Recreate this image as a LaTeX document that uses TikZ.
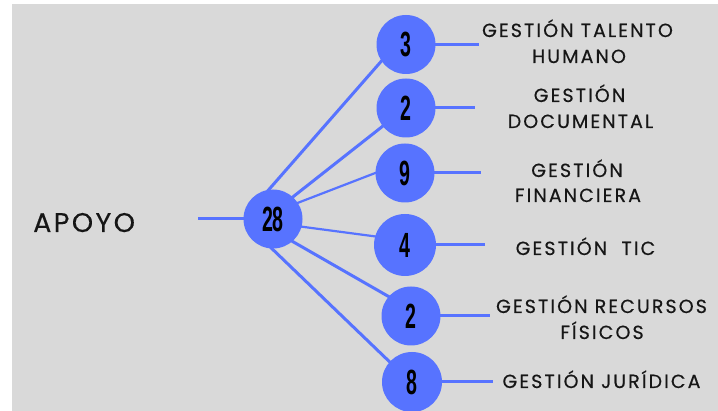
\documentclass[tikz,border=0pt]{standalone}
\usepackage{graphicx}
\usepackage{fontspec}
\setmainfont{Poppins}
\newfontfamily\numfont{Liberation Sans}
\newfontfamily\labelfont[LetterSpace=11,FakeBold=0.4]{Poppins}
\newfontfamily\titlefont[LetterSpace=9,FakeBold=0.3]{Poppins}
\usetikzlibrary{backgrounds}
\definecolor{bubble}{HTML}{5773FF}
\definecolor{panel}{HTML}{D9D9D9}
\definecolor{ink}{HTML}{161616}
\newcommand{\digits}[1]{\scalebox{0.56}[1]{#1}}
\begin{document}
\begin{tikzpicture}[x=1pt,y=-1pt,
  count/.style={circle,fill=bubble,minimum size=59pt,inner sep=0pt,
    font=\numfont\bfseries\fontsize{35}{35}\selectfont,text=black},
  area/.style={anchor=base,text=ink,inner sep=0pt,
    font=\labelfont\fontsize{19}{22}\selectfont},
  link/.style={draw=bubble,line width=3pt,shorten <=-2pt,shorten >=-2pt},
  thin link/.style={link,line width=2.2pt}]
\useasboundingbox (0,0) rectangle (718,411);

% centre and branch counters
\node[count] (c28) at (273,219) {\digits{28}};
\node[count] (c3)  at (406,44.5) {\digits{3}};
\node[count] (c2a) at (406,108) {\digits{2}};
\node[count] (c9)  at (405,173) {\digits{9}};
\node[count,minimum size=62pt] (c4) at (405,245) {\digits{4}};
\node[count] (c2b) at (411,316) {\digits{2}};
\node[count,minimum size=60pt] (c8) at (412,382) {\digits{8}};

% free ends of the short connectors
\coordinate (stem) at (200,219);
\coordinate (e3)  at (477,44.5);
\coordinate (e2a) at (473,108);
\coordinate (e9)  at (479,173);
\coordinate (e4)  at (483,245);
\coordinate (e2b) at (488,316);
\coordinate (e8)  at (491,382);

% labels
\node[anchor=base west,text=ink,inner sep=0pt,
  font=\titlefont\fontsize{27}{30}\selectfont] (apoyo) at (33,232) {APOYO};
\node[area] (l3a) at (577.5,37) {GESTIÓN TALENTO};
\node[area] (l3b) at (579,63) {HUMANO};
\node[area] (l2a) at (579.5,102) {GESTIÓN};
\node[area] (l2b) at (580.5,128) {DOCUMENTAL};
\node[area] (l9a) at (577,177) {GESTIÓN};
\node[area] (l9b) at (578,202) {FINANCIERA};
\node[area] (l4)  at (585.5,255) {GESTIÓN\ \ TIC};
\node[area] (l5a) at (601.5,313) {GESTIÓN RECURSOS};
\node[area] (l5b) at (602,339) {FÍSICOS};
\node[area] (l8)  at (601.5,388) {GESTIÓN JURÍDICA};

\begin{scope}[on background layer]
  \fill[panel] (12,4) rectangle (718,411);
  \draw[link] (stem) -- (c28);
  \draw[link] (c28.98)  -- (c3.214);
  \draw[link] (c28.48)  -- (c2a.218);
  \draw[thin link] (c28.33)  -- (c9.180);
  \draw[thin link] (c28.-15) -- (c4.164);
  \draw[link] (c28.-49) -- (c2b.139);
  \draw[link] (c28.-92) -- (c8.138);
  \draw[link] (c3)  -- (e3);
  \draw[link] (c2a) -- (e2a);
  \draw[link] (c9)  -- (e9);
  \draw[link] (c4)  -- (e4);
  \draw[link] (c2b) -- (e2b);
  \draw[link] (c8)  -- (e8);
\end{scope}
\end{tikzpicture}
\end{document}
